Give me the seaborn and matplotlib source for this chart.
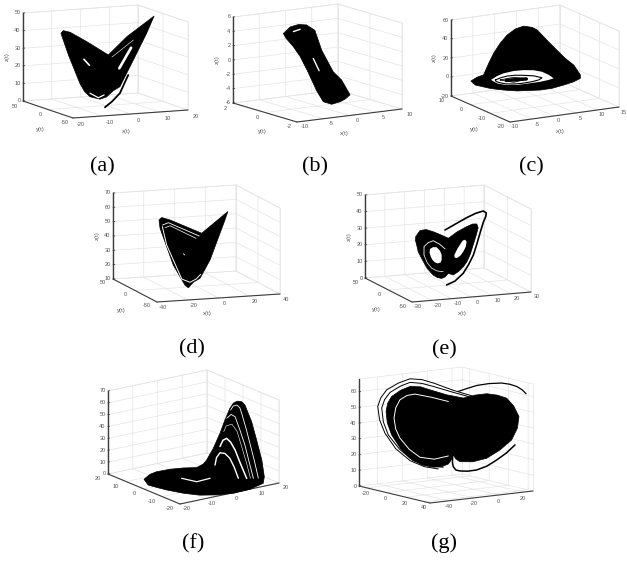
import numpy as np
import matplotlib
matplotlib.use("Agg")
import matplotlib.pyplot as plt
import seaborn as sns

sns.set_theme(style="white")
plt.rcParams['font.family'] = ['Liberation Sans', 'DejaVu Sans']

W, H = 627, 561

# values, x(t) and z(t) of each attractor
a_x = [-15.5, -14.7, -12.3, -6.5, 1.0, 7.4, 16.9, 14.3, 9.7, 5.0, 2.7, 0.4, -1.9, -5.4, -7.3, -8.9, -12.9]
a_z = [42.8, 44.2, 43.0, 37.0, 28.6, 38.2, 48.9, 39.4, 24.8, 10.1, 8.1, 4.9, 3.8, 5.6, 8.8, 13.6, 30.2]
a_strand_x = [-0.2, 2.2, 5.0, 7.9]
a_strand_z = [-1.0, 1.9, 6.4, 16.4]
a_hole1_x = [-7.5, -5.6]
a_hole1_z = [27.1, 23.5]
a_hole2_x = [4.8, 8.9]
a_hole2_z = [20.6, 31.8]
a_gap1_x = [-5.4, -2.5, -0.5]
a_gap1_z = [7.6, 4.7, 6.0]
a_gap2_x = [2.2, 9.7]
a_gap2_z = [27.2, 36.1]

b_x = [-6.5, -5.2, -3.6, -2.1, -0.5, 0.8, 3.0, 4.6, 6.2, 5.3, 4.3, 2.7, 1.1, -0.2, -1.8, -3.3, -4.6, -6.0]
b_z = [4.7, 5.5, 5.7, 5.5, 4.6, 1.7, -1.5, -2.8, -5.0, -5.5, -5.8, -6.0, -5.5, -3.8, -1.1, 1.2, 2.7, 4.0]
b_hole1_x = [-0.8, 0.3]
b_hole1_z = [0.7, -1.1]
b_hole2_x = [-4.6, -3.3]
b_hole2_z = [4.8, 5.0]

c_x = [-12.2, -10.8, -9.3, -8.1, -7.0, -5.5, -3.9, -2.0, -0.1, 1.8, 3.0, 5.6, 7.5, 9.4, 11.4, 12.9, 12.9,
       11.4, 9.1, 6.4, 3.7, -1.6, -4.7, -7.8, -11.2]
c_z = [10.8, 13.9, 15.4, 27.0, 36.7, 46.3, 54.0, 59.2, 61.0, 58.5, 55.0, 40.9, 31.0, 21.2, 12.7, 1.4, -2.2,
       -4.8, -6.8, -8.6, -8.7, -6.3, -3.4, 0.3, 6.0]
c_white_x = [-7.6, -6.2, -4.7, -2.4, -0.1, 2.2, 4.1, 5.6, 6.8, 5.6, 3.7, 1.0, -1.6, -4.3, -6.2]
c_white_z = [9.1, 12.3, 14.2, 15.2, 14.7, 13.1, 10.3, 6.2, 1.7, 0.7, 0.0, -0.1, 0.0, 1.7, 4.6]
c_ring1_x = [-6.6, -5.4, -3.9, -2.0, -0.1, 2.2, 4.1, 3.4, 1.8, -0.4, -2.4, -4.2, -5.5, -6.4, -6.6]
c_ring1_z = [8.4, 9.9, 10.8, 10.5, 9.2, 7.2, 4.0, 2.2, 1.3, 1.0, 1.5, 2.8, 4.8, 6.6, 8.4]
c_ring2_x = [-5.5, -2.4, 0.7, -2.4, -5.5]
c_ring2_z = [7.7, 8.5, 5.1, 3.3, 7.7]
c_core_x = [-4.1, 0.5]
c_core_z = [6.4, 5.0]

d_x = [-24.4, -22.6, -17.2, 3.4, 20.3, 18.5, 8.8, 2.3, -2.1, -5.3, -7.5, -15.1, -23.7]
d_z = [58.1, 59.7, 57.6, 46.9, 60.8, 55.1, 27.9, 15.6, 13.1, 9.5, 11.5, 26.0, 52.3]
d_gap1_x = [-22.2, -18.3, 1.8]
d_gap1_z = [54.4, 55.8, 45.1]
d_gap2_x = [-20.5, -17.2, -0.3]
d_gap2_z = [52.4, 53.6, 43.6]
d_gap3_x = [-22.2, -19.4, -9.6, -4.2, -0.3, 2.7]
d_gap3_z = [53.3, 40.3, 15.9, 13.2, 15.2, 18.3]
d_dot_x = [-8.5, -7.7]
d_dot_z = [33.5, 32.5]

e_x = [-16.3, -14.1, -11.0, -7.4, -3.5, 0.2, 4.5, 9.4, 12.5, 14.5, 15.2, 14.5, 13.0, 11.1, 9.5, 7.7, 5.2, 2.7,
       0.2, -1.5, -3.2, -5.3, -7.4, -10.5, -13.3, -15.0, -15.8, -16.4]
e_z = [30.7, 34.2, 34.5, 32.8, 30.5, 28.1, 31.5, 34.2, 35.5, 35.3, 33.0, 29.7, 24.0, 17.0, 13.0, 10.2, 7.5, 5.8,
       7.0, 5.0, 4.3, 5.0, 6.7, 11.0, 17.4, 21.5, 25.7, 28.5]
e_hole1_x = [-9.1, -7.4, -5.7, -4.0, -3.2, -3.2, -3.7, -5.2, -6.6, -7.9, -8.7, -9.3]
e_hole1_z = [22.6, 23.6, 23.3, 21.0, 18.4, 15.5, 14.0, 13.5, 14.3, 16.0, 18.0, 20.3]
e_hole2_x = [3.2, 4.8, 7.4, 8.6, 9.4, 8.9, 7.7, 6.2, 4.4, 3.3]
e_hole2_z = [17.8, 21.5, 26.0, 26.4, 25.1, 22.0, 19.3, 17.0, 15.7, 16.3]
e_gap_x = [-12.1, -12.1, -10.0, -7.4, -4.2, -1.5]
e_gap_z = [19.3, 24.3, 26.5, 27.4, 25.0, 21.9]
e_gap2_x = [-12.1, -10.5, -8.2, -5.5, -2.4]
e_gap2_z = [19.3, 14.5, 10.9, 9.0, 8.3]
e_strand_x = [-0.7, 3.5, 7.7, 10.5, 12.8, 14.5, 16.1, 17.8, 19.0, 19.3, 17.8, 14.0, 9.4, 4.0, -1.5]
e_strand_z = [0.1, 2.0, 6.3, 11.5, 16.8, 23.0, 29.5, 36.0, 39.2, 41.5, 42.8, 41.8, 39.6, 36.5, 33.3]

f_x = [-20.0, -17.6, -14.9, -9.5, -4.1, 1.3, 4.0, 5.3, 8.0, 10.7, 12.7, 14.7, 16.1, 17.7, 19.5, 20.8, 23.5, 25.5,
       27.6, 28.6, 28.2, 22.8, 16.1, 9.4, 2.6, -4.1, -10.8, -14.9, -18.3]
f_z = [8.2, 11.3, 12.3, 12.0, 10.7, 8.6, 10.5, 13.2, 21.9, 33.4, 43.7, 52.7, 56.4, 57.4, 56.1, 52.7, 37.4, 21.2,
       3.4, -11.1, -16.5, -19.2, -19.6, -18.0, -15.2, -10.6, -4.9, -0.9, 2.6]
f_gap1_x = [26.2, 24.7, 22.8, 21.2, 19.5, 18.7, 17.5, 16.0, 15.0]
f_gap1_z = [-11.3, 3.0, 19.6, 33.0, 46.1, 51.5, 54.2, 54.0, 51.1]
f_gap2_x = [24.2, 22.6, 20.8, 18.7, 16.8, 15.2, 13.4]
f_gap2_z = [-10.6, 3.0, 18.8, 33.0, 44.7, 47.3, 44.9]
f_gap3_x = [21.5, 19.0, 16.8, 15.0, 13.4, 11.9, 10.7]
f_gap3_z = [-9.5, 4.0, 16.6, 24.0, 27.9, 27.0, 22.2]
f_gap4_x = [18.1, 16.5, 14.7, 12.7, 10.7, 9.3, 8.7]
f_gap4_z = [-7.8, 2.0, 10.5, 15.5, 17.0, 13.5, 7.5]
f_gap5_x = [-4.8, 1.3, 6.7]
f_gap5_z = [2.3, -3.3, -2.8]
f_gap6_x = [23.0, 21.5, 19.5, 17.6, 15.5, 13.2, 12.2]
f_gap6_z = [-10.0, 3.0, 18.0, 32.0, 39.0, 38.5, 34.0]

g_x = [-61.8, -60.5, -57.3, -50.0, -42.5, -34.0, -26.4, -13.0, 0.4, 10.0, 19.3, 28.0, 35.4, 41.0, 45.3, 44.0, 39.4,
       30.0, 19.3, 8.0, -2.2, -5.5, -7.6, -9.5, -11.6, -17.0, -23.7, -33.0, -42.5, -50.0, -57.3, -60.8]
g_z = [53.4, 58.5, 62.5, 65.8, 67.5, 66.5, 63.9, 59.5, 56.2, 57.2, 57.2, 55.5, 52.9, 47.5, 40.3, 33.0, 26.0,
       20.5, 16.2, 15.0, 16.0, 18.0, 20.8, 17.5, 15.4, 14.2, 14.5, 16.8, 21.9, 28.5, 38.1, 46.0]
g_gap_x = [-11.6, -25.0, -38.5, -45.0, -50.6, -54.0, -55.4, -54.0, -50.6, -43.0, -34.5, -23.0, -11.6]
g_gap_z = [55.1, 59.0, 62.3, 62.0, 59.8, 55.0, 48.6, 41.5, 35.4, 27.5, 21.8, 19.5, 20.5]
g_s1_x = [-19.7, -31.0, -42.5, -54.0, -62.7, -67.0, -68.5, -66.0, -61.3, -52.0, -42.5, -33.0, -23.7, -8.0, 7.2]
g_s1_z = [13.0, 15.5, 20.4, 29.0, 39.7, 48.5, 57.2, 62.5, 67.1, 70.5, 72.4, 71.0, 68.0, 62.0, 57.0]
g_s2_x = [-15.7, -28.0, -39.9, -51.0, -60.0, -64.0, -65.3, -63.0, -58.6, -50.0, -42.5, -33.0, -23.7, -9.0, 4.5]
g_s2_z = [13.7, 15.8, 20.1, 28.5, 38.3, 47.0, 55.9, 61.0, 65.2, 68.5, 70.1, 68.6, 65.8, 61.0, 56.8]
g_s3_x = [-3.6, 3.5, 11.2, 21.0, 31.4, 38.0, 43.5, 48.0, 51.0]
g_s3_z = [60.8, 62.0, 63.2, 63.5, 62.9, 61.5, 59.6, 57.0, 54.3]
g_s4_x = [-8.1, -8.3, -7.6, -5.5, -2.2, 4.0, 11.2, 19.5, 27.4, 35.0, 42.1]
g_s4_z = [20.8, 16.0, 13.3, 11.0, 10.1, 9.4, 9.5, 11.2, 14.4, 18.0, 22.6]

xticks_a = [-20, -10, 0, 10, 20]
yticks_a = [-50, 0, 50]
zticks_a = [0, 10, 20, 30, 40, 50]
xticks_b = [-10, -5, 0, 5, 10]
yticks_b = [-2, 0, 2]
zticks_b = [-6, -4, -2, 0, 2, 4, 6]
xticks_c = [-10, -5, 0, 5, 10, 15]
yticks_c = [-20, -10, 0, 10]
zticks_c = [-20, 0, 20, 40, 60]
xticks_d = [-40, -20, 0, 20, 40]
yticks_d = [-50, 0, 50]
zticks_d = [10, 20, 30, 40, 50, 60, 70]
xticks_e = [-30, -20, -10, 0, 10, 20, 30]
yticks_e = [-50, 0, 50]
zticks_e = [0, 10, 20, 30, 40, 50]
xticks_f = [-20, -10, 0, 10, 20]
yticks_f = [-20, -10, 0, 10, 20]
zticks_f = [0, 10, 20, 30, 40, 50, 60, 70]
xticks_g = [-40, -20, 0, 20]
yticks_g = [40, 20, 0, -20]
zticks_g = [0, 10, 20, 30, 40, 50, 60]

# front corner and box edges in pixels, axis limits, where labels go
panels = [
    dict(cap="(a)", cap_at=(102, 167), F=(73, 118), ex=(115, -8), ey=(-50, -17), ez=(0, -88),
         xlim=(-20, 20), ylim=(-50, 50), zlim=(0, 50), xt=xticks_a, yt=yticks_a, zt=zticks_a,
         xo=(8, 6), yo=(-8, 5), xl=(126, 132), yl=(40, 130), zl=(7, 57)),
    dict(cap="(b)", cap_at=(315, 167), F=(297, 122), ex=(105, -13), ey=(-64, -19), ez=(0, -86),
         xlim=(-10, 10), ylim=(-2, 2), zlim=(-6, 6), xt=xticks_b, yt=yticks_b, zt=zticks_b,
         xo=(8, 5), yo=(-8, 5), xl=(344, 133), yl=(262, 132), zl=(217, 60)),
    dict(cap="(c)", cap_at=(531, 167), F=(510, 122), ex=(109, -15), ey=(-59, -26), ez=(0, -76),
         xlim=(-10, 15), ylim=(-20, 10), zlim=(-20, 60), xt=xticks_c, yt=yticks_c, zt=zticks_c,
         xo=(5, 5), yo=(-9, 5), xl=(560, 132), yl=(474, 130), zl=(434, 58)),
    dict(cap="(d)", cap_at=(192, 349), F=(157, 302), ex=(123, -8), ey=(-44, -23), ez=(0, -86),
         xlim=(-40, 40), ylim=(-50, 50), zlim=(10, 70), xt=xticks_d, yt=yticks_d, zt=zticks_d,
         xo=(6, 6), yo=(-10, 4), xl=(207, 314), yl=(121, 311), zl=(97, 236)),
    dict(cap="(e)", cap_at=(444, 350), F=(412, 302), ex=(119, -10), ey=(-47, -24), ez=(0, -83),
         xlim=(-30, 30), ylim=(-50, 50), zlim=(0, 50), xt=xticks_e, yt=yticks_e, zt=zticks_e,
         xo=(6, 5), yo=(-9, 5), xl=(462, 314), yl=(376, 310), zl=(349, 237)),
    dict(cap="(f)", cap_at=(193, 544), F=(180, 504), ex=(99, -21), ey=(-72, -30), ez=(0, -83),
         xlim=(-20, 20), ylim=(-20, 20), zlim=(0, 70), xt=xticks_f, yt=yticks_f, zt=zticks_f,
         xo=(7, 5), yo=(-10, 5), xl=None, yl=None, zl=None),
    dict(cap="(g)", cap_at=(444, 543), F=(430, 503), ex=(103, -12), ey=(-71, -17), ez=(0, -107),
         xlim=(-55, 28), ylim=(45, -28), zlim=(0, 68), xt=xticks_g, yt=yticks_g, zt=zticks_g,
         xo=(0, 6), yo=(-1, 6), xl=None, yl=None, zl=None),
]

GRID = "#e4e4e4"
DARK = "#3c3c3c"
TICK = "#555555"

fig = plt.figure(figsize=(W / 100, H / 100), dpi=100)


def project(p, x, y, z):
    x, y, z = np.asarray(x, float), np.asarray(y, float), np.asarray(z, float)
    fx = (x - p["xlim"][0]) / (p["xlim"][1] - p["xlim"][0])
    fy = (y - p["ylim"][0]) / (p["ylim"][1] - p["ylim"][0])
    fz = (z - p["zlim"][0]) / (p["zlim"][1] - p["zlim"][0])
    u = p["F"][0] + fx * p["ex"][0] + fy * p["ey"][0] + fz * p["ez"][0]
    v = p["F"][1] + fx * p["ex"][1] + fy * p["ey"][1] + fz * p["ez"][1]
    return u, v


def seg(ax, p, xs, ys, zs, color, lw, zorder=1):
    u, v = project(p, xs, ys, zs)
    sns.lineplot(x=u, y=v, sort=False, estimator=None, color=color, linewidth=lw,
                 legend=False, zorder=zorder, ax=ax)


def draw_box(ax, p):
    x0, x1 = p["xlim"]
    y0, y1 = p["ylim"]
    z0, z1 = p["zlim"]
    # back walls and floor
    for z in p["zt"] + [z1]:
        seg(ax, p, [x0, x1, x1], [y1, y1, y0], [z, z, z], GRID, 0.5)
    for x in p["xt"]:
        seg(ax, p, [x, x, x], [y0, y1, y1], [z0, z0, z1], GRID, 0.5)
    for y in p["yt"]:
        seg(ax, p, [x0, x1, x1], [y, y, y], [z0, z0, z1], GRID, 0.5)
    seg(ax, p, [x1, x1], [y1, y1], [z0, z1], GRID, 0.5)
    seg(ax, p, [x1, x1], [y0, y0], [z0, z1], GRID, 0.5)
    # dark axes
    seg(ax, p, [x0, x1], [y0, y0], [z0, z0], DARK, 0.8, 2)
    seg(ax, p, [x0, x0], [y0, y1], [z0, z0], DARK, 0.8, 2)
    seg(ax, p, [x0, x0], [y1, y1], [z0, z1], DARK, 1.0, 2)
    for x in p["xt"]:
        u, v = project(p, x, y0, z0)
        ax.text(u + p["xo"][0], v + p["xo"][1], str(x), fontsize=4, color=TICK, ha="center", va="center")
    for y in p["yt"]:
        u, v = project(p, x0, y, z0)
        ax.text(u + p["yo"][0], v + p["yo"][1], str(y), fontsize=4, color=TICK, ha="center", va="center")
    for z in p["zt"]:
        u, v = project(p, x0, y1, z)
        seg(ax, p, [x0, x0 + (x1 - x0) * 0.015], [y1, y1], [z, z], DARK, 0.6, 2)
        ax.text(u - 2.5, v, str(z), fontsize=4, color=TICK, ha="right", va="center")
    if p["xl"]:
        ax.text(*p["xl"], "x(t)", fontsize=4.2, color=TICK, ha="center", va="center")
        ax.text(*p["yl"], "y(t)", fontsize=4.2, color=TICK, ha="center", va="center")
        ax.text(*p["zl"], "z(t)", fontsize=4.2, color=TICK, ha="center", va="center", rotation=90)
    ax.text(*p["cap_at"], p["cap"], fontsize=16, color="black", family="Liberation Serif", ha="center", va="center")


def blob(ax, p, xs, zs, color="black", edge=0.5, zorder=3):
    ym = sum(p["ylim"]) / 2
    u, v = project(p, xs, np.full(len(xs), ym), zs)
    ax.fill(u, v, color=color, lw=edge, joinstyle="round", zorder=zorder)


def line(ax, p, xs, zs, color="black", lw=1.0):
    ym = sum(p["ylim"]) / 2
    seg(ax, p, xs, np.full(len(xs), ym), zs, color, lw, 5)


axes = []
for p in panels:
    us = [p["F"][0], p["F"][0] + p["ex"][0], p["F"][0] + p["ey"][0]]
    vs = [p["F"][1], p["F"][1] + p["ey"][1] + p["ez"][1] + p["ex"][1]]
    left, right = min(us) - 22, max(us) + 8
    top, bottom = min(vs) - 8, p["cap_at"][1] + 16
    ax = fig.add_axes([left / W, 1 - bottom / H, (right - left) / W, (bottom - top) / H])
    ax.set_xlim(left, right)
    ax.set_ylim(bottom, top)
    ax.axis("off")
    ax.patch.set_alpha(0)
    draw_box(ax, p)
    axes.append(ax)

ax_a, ax_b, ax_c, ax_d, ax_e, ax_f, ax_g = axes
p_a, p_b, p_c, p_d, p_e, p_f, p_g = panels

blob(ax_a, p_a, a_x, a_z)
line(ax_a, p_a, a_strand_x, a_strand_z, lw=1.3)
line(ax_a, p_a, a_hole1_x, a_hole1_z, "white", 1.2)
line(ax_a, p_a, a_hole2_x, a_hole2_z, "white", 1.9)
line(ax_a, p_a, a_gap1_x, a_gap1_z, "white", 0.9)
line(ax_a, p_a, a_gap2_x, a_gap2_z, "white", 0.4)

blob(ax_b, p_b, b_x, b_z)
line(ax_b, p_b, b_hole1_x, b_hole1_z, "white", 1.0)
line(ax_b, p_b, b_hole2_x, b_hole2_z, "white", 1.0)

blob(ax_c, p_c, c_x, c_z)
blob(ax_c, p_c, c_white_x, c_white_z, "white", 0, 4)
line(ax_c, p_c, c_ring1_x, c_ring1_z, lw=0.8)
line(ax_c, p_c, c_ring2_x, c_ring2_z, lw=0.6)
line(ax_c, p_c, c_core_x, c_core_z, lw=2.5)

blob(ax_d, p_d, d_x, d_z)
line(ax_d, p_d, d_gap1_x, d_gap1_z, "white", 0.6)
line(ax_d, p_d, d_gap2_x, d_gap2_z, "white", 0.5)
line(ax_d, p_d, d_gap3_x, d_gap3_z, "white", 0.7)
line(ax_d, p_d, d_dot_x, d_dot_z, "white", 0.6)

blob(ax_e, p_e, e_x, e_z)
blob(ax_e, p_e, e_hole1_x, e_hole1_z, "white", 0, 4)
blob(ax_e, p_e, e_hole2_x, e_hole2_z, "white", 0, 4)
line(ax_e, p_e, e_gap_x, e_gap_z, "white", 0.6)
line(ax_e, p_e, e_gap2_x, e_gap2_z, "white", 0.5)
line(ax_e, p_e, e_strand_x, e_strand_z, lw=1.2)

blob(ax_f, p_f, f_x, f_z)
line(ax_f, p_f, f_gap1_x, f_gap1_z, "white", 0.6)
line(ax_f, p_f, f_gap2_x, f_gap2_z, "white", 0.6)
line(ax_f, p_f, f_gap3_x, f_gap3_z, "white", 1.1)
line(ax_f, p_f, f_gap4_x, f_gap4_z, "white", 1.0)
line(ax_f, p_f, f_gap5_x, f_gap5_z, "white", 0.9)
line(ax_f, p_f, f_gap6_x, f_gap6_z, "white", 0.4)

blob(ax_g, p_g, g_x, g_z)
line(ax_g, p_g, g_gap_x, g_gap_z, "white", 0.7)
line(ax_g, p_g, g_s1_x, g_s1_z, lw=0.7)
line(ax_g, p_g, g_s2_x, g_s2_z, lw=0.7)
line(ax_g, p_g, g_s3_x, g_s3_z, lw=0.9)
line(ax_g, p_g, g_s4_x, g_s4_z, lw=1.1)

fig.savefig("out.png", dpi=100)
